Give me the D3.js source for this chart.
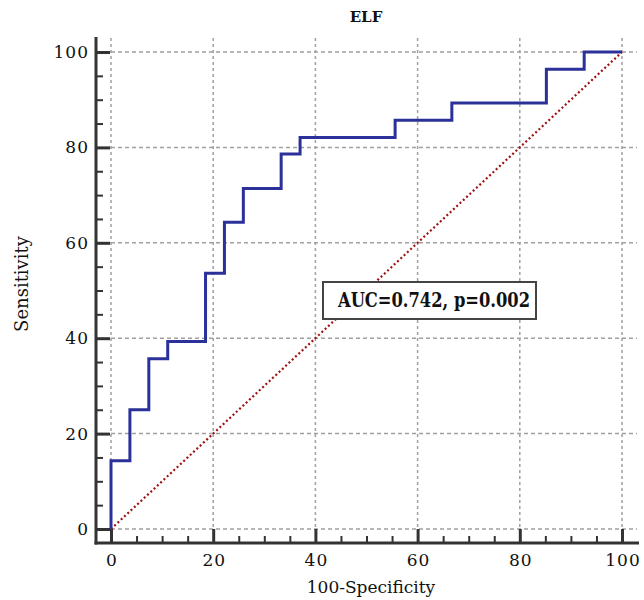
<!DOCTYPE html>
<html>
<head>
<meta charset="utf-8">
<script src="https://cdn.jsdelivr.net/npm/d3@7"></script>
<style>
  body { margin: 0; background: #fff; }
  text { font-family: "DejaVu Serif", serif; }
</style>
</head>
<body>
<div id="chart"></div>
<script>
// data (ROC corner points)
var fpr = [ 0, 0, 3.7, 7.4, 11.1, 18.5, 22.2, 25.9, 33.3, 37.0, 55.6, 66.7, 85.2, 92.6, 100 ];
var tpr = [ 0, 14.3, 25.0, 35.7, 39.3, 53.6, 64.3, 71.4, 78.6, 82.1, 85.7, 89.3, 96.4, 100, 100 ];
var majorTicks = [ 0, 20, 40, 60, 80, 100 ];
var title = 'ELF';
var xLabel = '100-Specificity';
var yLabel = 'Sensitivity';
var note = 'AUC=0.742, p=0.002';

var width = 644;
var height = 600;

var x = d3.scaleLinear().domain( [ 0, 100 ] ).range( [ 111, 622 ] );
var y = d3.scaleLinear().domain( [ 0, 100 ] ).range( [ 529, 52 ] );

var spineX = 96;
var spineY = 543;

var svg = d3.select( '#chart' )
            .append( 'svg' )
            .attr( 'width', width )
            .attr( 'height', height );

// grid
svg.append( 'g' )
   .selectAll( 'line' )
   .data( majorTicks )
   .enter()
   .append( 'line' )
   .attr( 'x1', function( d ) { return x( d ); } )
   .attr( 'x2', function( d ) { return x( d ); } )
   .attr( 'y1', 38 )
   .attr( 'y2', y( 0 ) )
   .attr( 'stroke', '#a0a0a0' )
   .attr( 'stroke-width', 1.5 )
   .attr( 'stroke-dasharray', '3,3' );

svg.append( 'g' )
   .selectAll( 'line' )
   .data( majorTicks )
   .enter()
   .append( 'line' )
   .attr( 'x1', x( 0 ) )
   .attr( 'x2', 637 )
   .attr( 'y1', function( d ) { return y( d ); } )
   .attr( 'y2', function( d ) { return y( d ); } )
   .attr( 'stroke', '#a0a0a0' )
   .attr( 'stroke-width', 1.5 )
   .attr( 'stroke-dasharray', '4,3' );

// axes
var minorTicks = d3.range( 0, 101, 5 );

var yAxis = d3.axisRight( y )
              .tickValues( minorTicks )
              .tickSize( 7 )
              .tickFormat( '' );
var gy = svg.append( 'g' )
            .attr( 'transform', 'translate(' + spineX + ',0)' )
            .call( yAxis );
gy.select( '.domain' ).remove();
gy.selectAll( '.tick line' )
  .attr( 'stroke', '#333' )
  .attr( 'stroke-width', 2 )
  .attr( 'x2', function( d ) { return d % 20 == 0 ? 14 : 7; } )
  .attr( 'stroke-width', function( d ) { return d % 20 == 0 ? 3 : 2; } );

var xAxis = d3.axisTop( x )
              .tickValues( minorTicks )
              .tickSize( 7 )
              .tickFormat( '' );
var gx = svg.append( 'g' )
            .attr( 'transform', 'translate(0,' + spineY + ')' )
            .call( xAxis );
gx.select( '.domain' ).remove();
gx.selectAll( '.tick line' )
  .attr( 'stroke', '#333' )
  .attr( 'y2', function( d ) { return d % 20 == 0 ? -14 : -7; } )
  .attr( 'stroke-width', function( d ) { return d % 20 == 0 ? 3 : 2; } );

// spines
svg.append( 'line' )
   .attr( 'x1', spineX )
   .attr( 'x2', spineX )
   .attr( 'y1', 37 )
   .attr( 'y2', spineY + 1.5 )
   .attr( 'stroke', '#333' )
   .attr( 'stroke-width', 3 );
svg.append( 'line' )
   .attr( 'x1', spineX - 1.5 )
   .attr( 'x2', 639 )
   .attr( 'y1', spineY )
   .attr( 'y2', spineY )
   .attr( 'stroke', '#333' )
   .attr( 'stroke-width', 3 );

// tick labels
svg.append( 'g' )
   .selectAll( 'text' )
   .data( majorTicks )
   .enter()
   .append( 'text' )
   .attr( 'x', 89 )
   .attr( 'y', function( d ) { return y( d ) + 6; } )
   .attr( 'text-anchor', 'end' )
   .attr( 'font-size', 17 )
   .attr( 'letter-spacing', 1 )
   .attr( 'fill', '#111' )
   .text( function( d ) { return d; } );

svg.append( 'g' )
   .selectAll( 'text' )
   .data( majorTicks )
   .enter()
   .append( 'text' )
   .attr( 'x', function( d ) { return x( d ) + 1; } )
   .attr( 'y', 566 )
   .attr( 'text-anchor', 'middle' )
   .attr( 'font-size', 17 )
   .attr( 'letter-spacing', 1 )
   .attr( 'fill', '#111' )
   .text( function( d ) { return d; } );

// diagonal reference line
svg.append( 'line' )
   .attr( 'x1', x( 0 ) )
   .attr( 'y1', y( 0 ) )
   .attr( 'x2', x( 100 ) )
   .attr( 'y2', y( 100 ) )
   .attr( 'stroke', '#a01010' )
   .attr( 'stroke-width', 2.2 )
   .attr( 'stroke-dasharray', '2,2.5' );

// ROC curve
var points = fpr.map( function( v, i ) { return [ v, tpr[ i ] ]; } );
var line = d3.line()
             .x( function( d ) { return x( d[ 0 ] ); } )
             .y( function( d ) { return y( d[ 1 ] ); } )
             .curve( d3.curveStepAfter );
svg.append( 'path' )
   .datum( points )
   .attr( 'd', line )
   .attr( 'fill', 'none' )
   .attr( 'stroke', '#2c3199' )
   .attr( 'stroke-width', 3 );

// annotation box
svg.append( 'rect' )
   .attr( 'x', 323 )
   .attr( 'y', 282 )
   .attr( 'width', 213 )
   .attr( 'height', 37 )
   .attr( 'fill', '#fff' )
   .attr( 'stroke', '#444' )
   .attr( 'stroke-width', 2 );
svg.append( 'text' )
   .attr( 'x', 338 )
   .attr( 'y', 307 )
   .attr( 'font-family', '"Liberation Serif", serif' )
   .attr( 'font-weight', 'bold' )
   .attr( 'font-size', 21 )
   .attr( 'textLength', 192 )
   .attr( 'lengthAdjust', 'spacingAndGlyphs' )
   .attr( 'fill', '#111' )
   .text( note );

// title and axis labels
svg.append( 'text' )
   .attr( 'x', 366 )
   .attr( 'y', 22 )
   .attr( 'text-anchor', 'middle' )
   .attr( 'font-family', '"Liberation Serif", serif' )
   .attr( 'font-weight', 'bold' )
   .attr( 'font-size', 15 )
   .attr( 'fill', '#111' )
   .text( title );

svg.append( 'text' )
   .attr( 'x', 371 )
   .attr( 'y', 593 )
   .attr( 'text-anchor', 'middle' )
   .attr( 'font-size', 17 )
   .attr( 'fill', '#111' )
   .text( xLabel );

svg.append( 'text' )
   .attr( 'transform', 'translate(28,284) rotate(-90)' )
   .attr( 'text-anchor', 'middle' )
   .attr( 'font-size', 18 )
   .attr( 'fill', '#111' )
   .text( yLabel );
</script>
</body>
</html>
